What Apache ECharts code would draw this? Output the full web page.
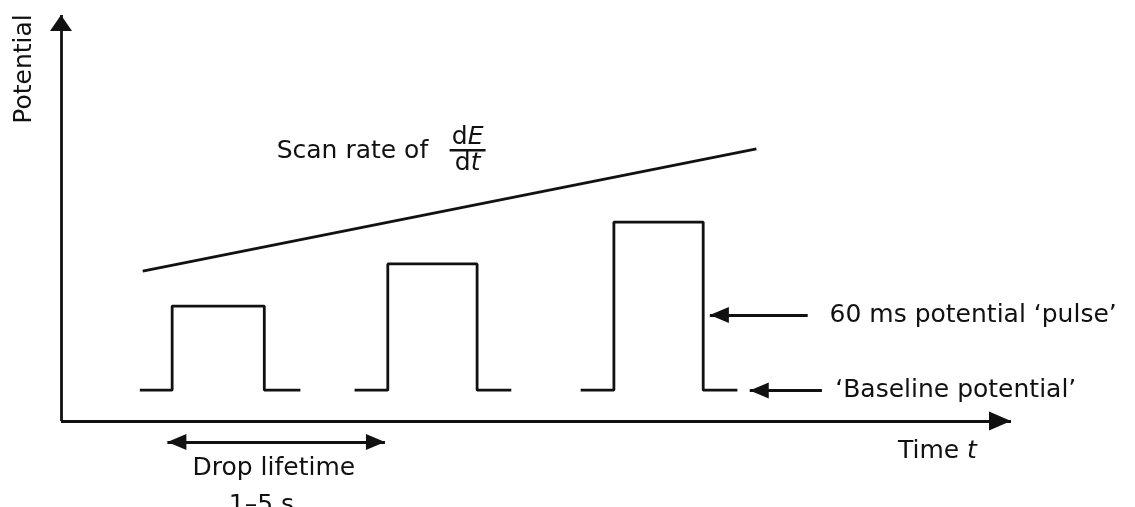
<!DOCTYPE html>
<html>
<head>
<meta charset="utf-8">
<script src="https://cdn.jsdelivr.net/npm/echarts@6/dist/echarts.min.js"></script>
<style>
html,body{margin:0;padding:0;background:#fff;}
#chart{width:1135px;height:507px;}
</style>
</head>
<body>
<div id="chart"></div>
<script>
// ---- data (time: arbitrary units 0–100, potential: arbitrary units) ----
const pulse1 = [[8.3, 7.6], [11.7, 7.6], [11.7, 28.3], [21.4, 28.3], [21.4, 7.6], [25.2, 7.6]];
const pulse2 = [[30.9, 7.6], [34.4, 7.6], [34.4, 38.7], [43.8, 38.7], [43.8, 7.6], [47.4, 7.6]];
const pulse3 = [[54.7, 7.6], [58.2, 7.6], [58.2, 49.0], [67.6, 49.0], [67.6, 7.6], [71.2, 7.6]];
const scanRate = [[8.6, 36.9], [73.2, 67.0]];
const timeAxisLine = [[0, 0], [100, 0]];
const potentialAxisLine = [[0, 0], [0, 100]];
const pulseArrow = [[78.6, 26.1], [68.3, 26.1]];
const baselineArrow = [[80.1, 7.5], [72.5, 7.5]];
const lifetimeArrow = [[11.2, -5.2], [34.1, -5.2]];
const annotationText = ["Scan rate of", "60 ms potential \u2018pulse\u2019", "\u2018Baseline potential\u2019", "Drop lifetime", "1\u20135 s"];
const annotationAt = [[22.7, 66.5], [80.9, 25.9], [81.5, 7.4], [22.4, -11.8], [21.1, -20.9]];
const fractionAt = [42.8, 66.7];
const timeLabelAt = [88.1, -7.4];
const yAxisTitle = "Potential";
const yAxisTitleAt = [-3.8, 86.7];

// ---- styling / option ----
const F = "DejaVu Sans";
const INK = "#111111";
const LW = 2.8;

function pulseSeries(name, data) {
  return {
    name: name, type: 'line', data: data, symbol: 'none', silent: true,
    lineStyle: { color: INK, width: LW }, z: 3
  };
}

function arrowLine(pts, startHead, endHead) {
  return [
    { coord: pts[0], symbol: startHead ? 'triangle' : 'none', symbolSize: startHead || 1, symbolOffset: startHead ? [0, startHead[1] / 2] : 0 },
    { coord: pts[1], symbol: endHead ? 'triangle' : 'none', symbolSize: endHead || 1, symbolOffset: endHead ? [0, endHead[1] / 2] : 0 }
  ];
}

const labelData = annotationText.map((t, i) => ({
  name: t,
  value: annotationAt[i],
  label: { align: i < 3 ? 'left' : 'center' }
}));
labelData.push({
  name: 'dE/dt',
  value: fractionAt,
  label: {
    align: 'center',
    formatter: '{r|d}{i|E}\n{bar|}\n{r|d}{i|t}'
  }
});
labelData.push({
  name: 'Time t',
  value: timeLabelAt,
  label: { align: 'left', formatter: '{r|Time }{i|t}' }
});
labelData.push({
  name: yAxisTitle,
  value: yAxisTitleAt,
  label: { align: 'center', rotate: 90 }
});

const option = {
  animation: false,
  backgroundColor: '#ffffff',
  grid: { left: 61, top: 15, width: 950, height: 487.2 },
  xAxis: { type: 'value', min: 0, max: 100, show: false },
  yAxis: {
    type: 'value', min: -20, max: 100, show: false
  },
  series: [
    pulseSeries('Pulse 1', pulse1),
    pulseSeries('Pulse 2', pulse2),
    pulseSeries('Pulse 3', pulse3),
    {
      name: 'Scan rate', type: 'line', data: scanRate, symbol: 'none', silent: true,
      lineStyle: { color: INK, width: LW }, z: 3,
      markLine: {
        silent: true, animation: false,
        label: { show: false },
        lineStyle: { color: INK, width: LW, type: 'solid' },
        itemStyle: { color: INK },
        emphasis: { disabled: true },
        data: [
          arrowLine(timeAxisLine, null, [19, 22]),
          arrowLine(potentialAxisLine, null, [22, 16]),
          arrowLine(pulseArrow, null, [16, 19]),
          arrowLine(baselineArrow, null, [16, 19]),
          arrowLine(lifetimeArrow, [16, 19], [16, 19])
        ]
      }
    },
    {
      name: 'Annotations', type: 'scatter', data: labelData, symbolSize: 0, clip: false, silent: true,
      itemStyle: { color: INK, opacity: 1 },
      label: {
        show: true, position: 'inside', verticalAlign: 'middle',
        fontFamily: F, fontSize: 25, color: INK, opacity: 1,
        formatter: p => p.name,
        rich: {
          r: { fontFamily: F, fontSize: 25, color: INK, lineHeight: 22 },
          i: { fontFamily: F, fontSize: 25, color: INK, fontStyle: 'italic', lineHeight: 22 },
          bar: { width: 36, height: 2.5, lineHeight: 4, backgroundColor: INK }
        }
      },
      z: 5
    }
  ]
};

const chart = echarts.init(document.getElementById('chart'), null, { renderer: 'canvas' });
chart.setOption(option);
</script>
</body>
</html>
